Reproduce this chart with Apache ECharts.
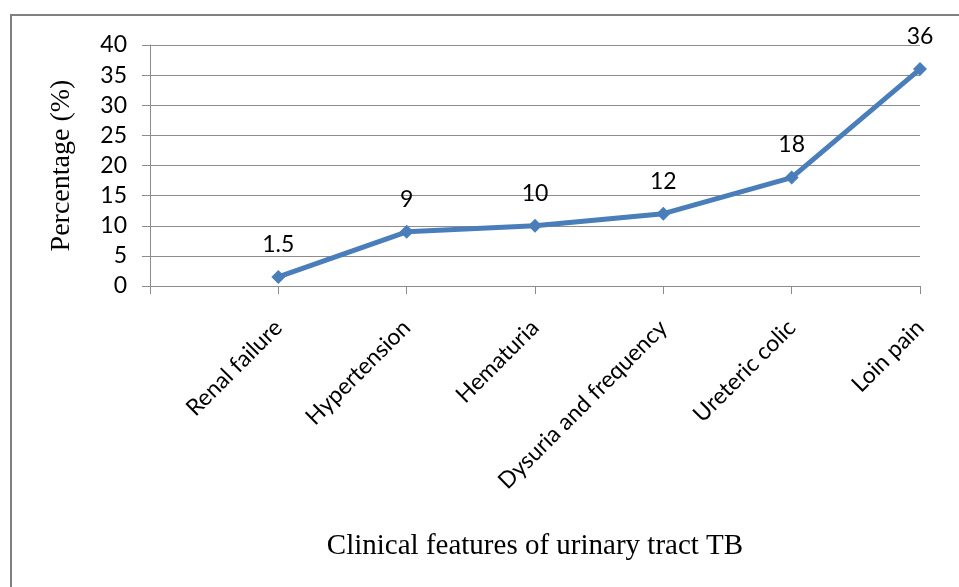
<!DOCTYPE html>
<html>
<head>
<meta charset="utf-8">
<script src="https://cdn.jsdelivr.net/npm/echarts@6/dist/echarts.min.js"></script>
<style>
  html, body { margin: 0; padding: 0; background: #fff; }
  #chart { width: 959px; height: 587px; }
</style>
</head>
<body>
<div id="chart"></div>
<script>
// first slot is empty so the points sit one category in from the y axis
const categories = ['', 'Renal failure', 'Hypertension', 'Hematuria', 'Dysuria and frequency', 'Ureteric colic', 'Loin pain'];
const percentages = [null, 1.5, 9, 10, 12, 18, 36];
const yTicks = [0, 5, 10, 15, 20, 25, 30, 35, 40];

const chart = echarts.init(document.getElementById('chart'));
const gray = '#8c8c8c';

chart.setOption({
    animation: false,
    graphic: [{
        type: 'rect',
        shape: { x: 11, y: 15, width: 960, height: 600 },
        style: { fill: 'none', stroke: '#808080', lineWidth: 2 }
    }],
    grid: { left: 150, right: 39, top: 45, bottom: 301, containLabel: false },
    xAxis: {
        type: 'category',
        data: categories,
        boundaryGap: false,
        name: 'Clinical features of urinary tract TB',
        nameLocation: 'middle',
        nameGap: 246,
        nameTextStyle: { fontFamily: 'Liberation Serif', fontSize: 29, color: '#000' },
        axisLine: { lineStyle: { color: gray, width: 1 } },
        axisTick: { show: true, length: 8, alignWithLabel: true, lineStyle: { color: gray } },
        axisLabel: {
            rotate: 45, margin: 38, interval: 0,
            fontFamily: 'Lato', fontSize: 23, color: '#000'
        },
        splitLine: { show: false }
    },
    yAxis: {
        type: 'value',
        min: yTicks[0],
        max: yTicks[yTicks.length - 1],
        interval: 5,
        name: 'Percentage (%)',
        nameLocation: 'middle',
        nameGap: 74,
        nameTextStyle: { fontFamily: 'Liberation Serif', fontSize: 28, color: '#000' },
        axisLine: { show: true, lineStyle: { color: gray, width: 1 } },
        axisTick: { show: true, length: 8, lineStyle: { color: gray } },
        axisLabel: { margin: 23, fontFamily: 'Lato', fontSize: 23, color: '#000' },
        splitLine: { show: true, lineStyle: { color: gray, width: 1 } }
    },
    series: [{
        type: 'line',
        data: percentages,
        connectNulls: false,
        symbol: 'diamond',
        symbolSize: 14,
        lineStyle: { color: '#4a7ebb', width: 5 },
        itemStyle: { color: '#4a7ebb' },
        label: {
            show: true, position: 'top', distance: 14,
            fontFamily: 'Lato', fontSize: 23, color: '#000'
        }
    }]
});
</script>
</body>
</html>
